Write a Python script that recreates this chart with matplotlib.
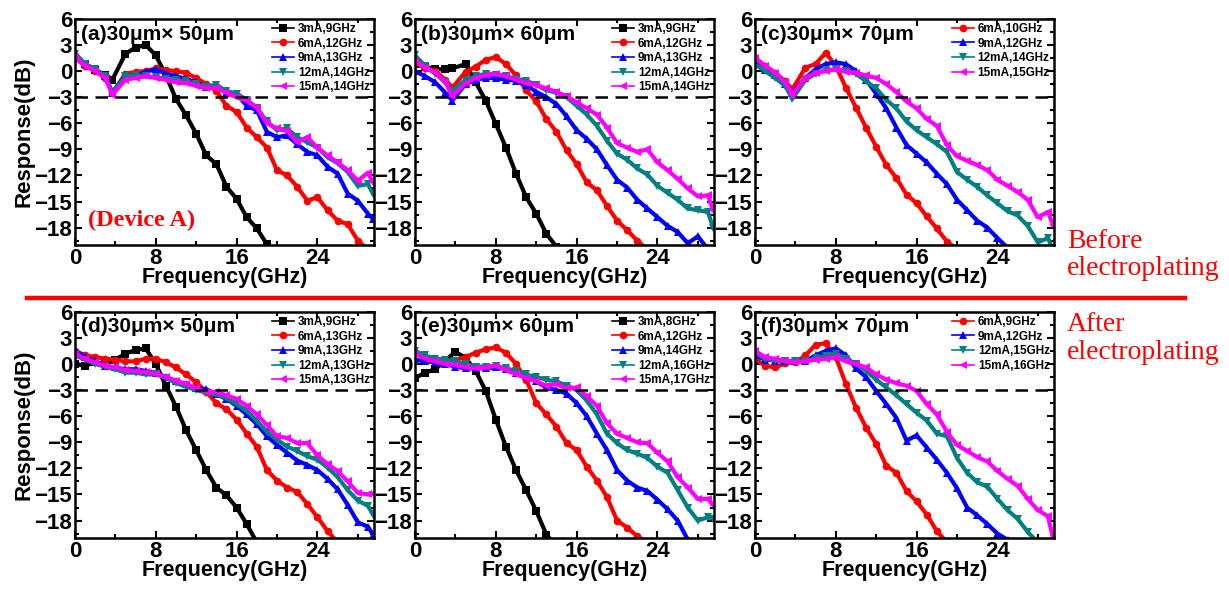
import matplotlib
matplotlib.use("Agg")
import matplotlib.pyplot as plt
from matplotlib.ticker import MultipleLocator

plt.rcParams['font.family'] = ['Liberation Sans', 'DejaVu Sans']
plt.rcParams['font.weight'] = 'bold'

# frequency grids (GHz)
freq_top = [0, 1, 2, 3, 3.7] + list(range(5, 30)) + [29.5]
freq_bot = list(range(0, 30)) + [29.5]

# (a) 30um x 50um, before electroplating
a_3mA = [1.5, 0.8, 0.1, -0.4, -1.0, 2.0, 2.7, 3.0, 1.8, -0.5, -3.2, -5.1, -7.2, -9.7, -10.7,
         -13.3, -14.7, -16.8, -18.1, -19.9, -21]
a_6mA = [1.5, 0.6, 0.0, -0.8, -2.5, -0.3, -0.1, 0.0, 0.3, 0.1, 0.0, -0.2, -0.8, -1.5, -2.3,
         -4.0, -4.7, -6.5, -7.6, -8.8, -11.4, -12.0, -13.3, -14.9, -14.5, -16.0, -17.2, -17.6, -19.5, -20.5]
a_9mA = [2.0, 0.8, 0.2, -0.6, -2.5, -0.5, -0.6, -0.1, 0.2, -0.3, -0.6, -0.9, -1.3, -1.8, -1.6,
         -2.5, -2.6, -4.0, -4.5, -7.0, -7.6, -7.4, -8.4, -9.3, -9.7, -11.0, -11.8, -14.1, -14.9, -16.4, -17.0]
a_12mA = [2.0, 0.8, 0.2, -0.6, -2.5, -0.6, -0.5, -0.6, -0.7, -0.9, -1.0, -1.2, -1.5, -1.8, -1.6,
          -2.3, -2.6, -3.3, -4.2, -5.8, -6.8, -6.6, -7.6, -8.2, -8.8, -9.9, -10.6, -11.6, -13.2, -13.0, -14.1]
a_15mA = [1.6, 0.6, 0.0, -0.8, -2.7, -1.0, -0.8, -0.6, -0.8, -1.0, -1.3, -1.4, -1.7, -2.0, -1.9,
          -2.5, -3.0, -3.4, -4.2, -6.0, -6.6, -6.9, -8.2, -7.6, -8.8, -9.7, -10.5, -11.4, -12.6, -11.7, -12.8]

# (b) 30um x 60um, before electroplating
b_3mA = [0.8, 0.5, 0.2, 0.2, 0.3, 0.8, -1.3, -3.4, -6.1, -8.8, -11.8, -14.5, -16.4, -18.7, -20.2]
b_6mA = [1.0, 0.3, 0.0, -1.0, -1.9, -0.1, 0.5, 1.3, 1.6, 0.8, -0.5, -2.2, -3.5, -5.5, -7.0,
         -9.1, -10.7, -12.8, -13.7, -15.5, -17.2, -18.3, -19.5, -20.5]
b_9mA = [0.0, -0.6, -1.3, -2.5, -3.4, -1.5, -1.0, -0.8, -0.8, -1.0, -1.1, -1.6, -2.4, -3.0, -3.8,
         -5.2, -6.8, -7.8, -9.0, -10.8, -12.5, -13.4, -14.8, -15.8, -16.8, -17.8, -18.5, -19.8, -19.0, -20.5]
b_12mA = [1.8, 0.6, -0.3, -1.3, -2.3, -1.0, -0.6, -0.3, -0.4, -0.6, -0.9, -1.1, -1.6, -2.2, -2.5,
          -3.0, -4.0, -5.0, -6.3, -8.0, -9.5, -10.2, -11.2, -11.9, -13.2, -14.0, -14.8, -15.8, -16.0, -16.2, -18.0]
b_15mA = [1.2, 0.4, -0.2, -1.3, -2.9, -1.4, -0.8, -0.5, -0.3, -0.6, -1.0, -1.4, -1.6, -2.0, -2.4,
          -2.9, -3.6, -4.3, -5.0, -6.5, -8.3, -8.8, -9.3, -9.0, -10.5, -11.4, -12.4, -13.5, -14.4, -14.3, -16.0]

# (c) 30um x 70um, before electroplating
c_6mA = [1.5, 0.6, -0.2, -1.2, -2.1, 0.4, 0.8, 2.1, 0.6, -1.9, -4.2, -6.5, -8.7, -10.8, -12.3,
         -14.2, -15.2, -16.7, -18.1, -19.6, -20.5]
c_9mA = [1.0, 0.1, -0.5, -1.5, -2.5, -0.8, 0.2, 0.8, 1.0, 0.8, 0.0, -1.0, -2.6, -4.3, -6.5,
         -8.5, -9.5, -10.5, -11.8, -13.0, -14.8, -16.0, -17.2, -18.0, -19.2, -20.3]
c_12mA = [0.8, 0.0, -0.8, -1.7, -3.2, -1.0, -0.3, 0.1, 0.2, 0.0, -0.3, -1.2, -2.0, -3.3, -4.3,
          -5.8, -6.8, -7.6, -8.4, -9.3, -11.6, -12.5, -13.3, -14.3, -15.2, -16.1, -16.6, -17.8, -19.7, -19.2, -20.5]
c_15mA = [1.5, 0.6, -0.2, -1.3, -2.7, -0.8, -0.2, 0.0, 0.2, -0.1, -0.2, -0.5, -0.8, -1.5, -2.4,
          -3.5, -4.3, -5.5, -6.3, -8.5, -9.8, -10.3, -10.8, -11.4, -12.5, -13.2, -13.9, -14.8, -16.8, -16.2, -17.7]

# (d) 30um x 50um, after electroplating
d_3mA = [0.0, -0.2, 0.2, 0.0, 0.5, 1.2, 1.6, 1.8, 0.0, -2.5, -4.9, -7.6, -9.9, -12.2, -14.2,
         -15.1, -16.5, -18.4, -20.5]
d_6mA = [1.5, 1.0, 0.8, 0.6, 0.5, 0.3, 0.3, 0.6, 0.6, 0.2, -0.4, -1.2, -2.1, -3.2, -4.5,
         -5.2, -6.4, -8.0, -9.5, -12.2, -13.4, -14.2, -14.7, -16.1, -17.6, -19.2, -20.5]
d_9mA = [1.6, 0.8, 0.3, -0.2, -0.4, -0.6, -0.6, -0.8, -1.0, -1.5, -2.0, -2.3, -2.8, -2.9, -3.5,
         -4.0, -4.8, -5.8, -6.9, -8.3, -9.3, -10.2, -11.1, -11.6, -12.2, -13.2, -14.4, -16.2, -18.2, -18.7, -19.6]
d_12mA = [1.0, 0.5, 0.0, -0.3, -0.6, -1.0, -1.0, -1.2, -1.2, -1.6, -2.2, -2.6, -3.0, -3.3, -3.5,
          -3.9, -4.6, -5.4, -6.5, -7.8, -8.7, -9.5, -10.0, -10.6, -11.0, -11.9, -13.0, -14.5, -15.7, -16.3, -17.3]
d_15mA = [1.2, 0.6, 0.2, -0.2, -0.4, -0.7, -0.8, -0.9, -1.1, -1.5, -1.9, -2.3, -2.8, -3.2, -3.2,
          -3.6, -4.0, -4.8, -5.8, -7.0, -8.3, -8.5, -9.1, -9.1, -10.5, -11.5, -12.3, -13.5, -14.8, -15.0, -14.9]

# (e) 30um x 60um, after electroplating
e_3mA = [-1.6, -1.0, -0.6, 0.4, 1.4, 0.7, -0.8, -3.1, -6.4, -9.5, -12.2, -14.5, -16.9, -19.6, -21.0]
e_6mA = [1.3, 0.7, 0.5, 0.3, 0.5, 0.8, 1.3, 1.7, 1.9, 1.3, 0.0, -1.8, -4.5, -5.8, -7.2,
         -9.1, -9.9, -11.8, -13.4, -15.3, -18.0, -18.8, -19.8, -20.5]
e_9mA = [0.5, 0.3, 0.2, 0.0, -0.3, -0.5, -0.5, -0.5, -0.4, -0.6, -1.0, -1.4, -2.0, -2.7, -3.0,
         -3.4, -4.5, -6.0, -8.0, -9.9, -12.2, -13.4, -14.2, -14.6, -15.6, -16.7, -18.0, -20.2]
e_12mA = [1.5, 1.0, 0.6, 0.5, 0.3, 0.0, -0.3, -0.3, -0.2, -0.5, -0.8, -1.2, -1.5, -1.8, -2.0,
          -2.5, -3.0, -4.2, -5.8, -8.0, -9.1, -9.9, -10.3, -10.8, -11.8, -12.5, -14.5, -16.5, -18.0, -17.6, -17.8]
e_15mA = [1.2, 0.6, 0.3, 0.0, -0.1, -0.4, -0.5, -0.4, -0.2, -0.7, -1.2, -1.6, -2.0, -2.5, -2.3,
          -2.8, -2.7, -3.7, -4.8, -6.8, -8.0, -8.5, -9.0, -9.1, -10.2, -11.2, -13.0, -14.2, -15.5, -15.5, -16.2]

# (f) 30um x 70um, after electroplating
f_6mA = [0.6, -0.2, -0.4, 0.1, 0.2, 1.0, 2.2, 2.4, 0.8, -2.3, -5.0, -7.3, -9.2, -11.7, -12.5,
         -14.6, -15.8, -17.3, -19.2, -20.5]
f_9mA = [1.0, 0.5, 0.4, 0.3, 0.4, 0.3, 1.0, 1.5, 1.8, 1.0, -0.5, -1.5, -3.1, -4.6, -6.2,
         -8.8, -8.2, -9.6, -11.0, -12.5, -14.3, -16.5, -17.4, -18.4, -19.5, -20.2]
f_12mA = [1.3, 0.6, 0.4, 0.3, 0.3, 0.3, 0.7, 0.9, 1.2, 0.6, 0.0, -0.8, -1.8, -2.7, -3.6,
          -4.6, -5.6, -6.5, -8.0, -8.3, -10.8, -12.5, -13.6, -14.1, -15.5, -16.8, -17.8, -19.3, -20.5]
f_15mA = [1.5, 0.8, 0.6, 0.4, 0.2, 0.3, 0.5, 0.6, 0.8, 0.3, 0.0, -0.4, -1.2, -1.8, -2.2,
          -2.5, -3.1, -4.6, -5.8, -7.8, -9.3, -10.0, -10.7, -11.2, -12.3, -13.2, -14.0, -15.5, -16.8, -17.5, -20.0]

titles = ["(a)30\u03bcm\u00d7 50\u03bcm", "(b)30\u03bcm\u00d7 60\u03bcm", "(c)30\u03bcm\u00d7 70\u03bcm",
          "(d)30\u03bcm\u00d7 50\u03bcm", "(e)30\u03bcm\u00d7 60\u03bcm", "(f)30\u03bcm\u00d7 70\u03bcm"]
labels_a = ["3mA,9GHz", "6mA,12GHz", "9mA,13GHz", "12mA,14GHz", "15mA,14GHz"]
labels_b = ["3mA,9GHz", "6mA,12GHz", "9mA,13GHz", "12mA,14GHz", "15mA,14GHz"]
labels_c = ["6mA,10GHz", "9mA,12GHz", "12mA,14GHz", "15mA,15GHz"]
labels_d = ["3mA,9GHz", "6mA,13GHz", "9mA,13GHz", "12mA,13GHz", "15mA,13GHz"]
labels_e = ["3mA,8GHz", "6mA,12GHz", "9mA,14GHz", "12mA,16GHz", "15mA,17GHz"]
labels_f = ["6mA,9GHz", "9mA,12GHz", "12mA,15GHz", "15mA,16GHz"]

styles = {3: ('black', 's'), 6: ('#ff0000', 'o'), 9: ('#0000ff', '^'),
          12: ('#008080', 'v'), 15: ('#ff00ff', '<')}

panels = [
    (freq_top, [3, 6, 9, 12, 15], [a_3mA, a_6mA, a_9mA, a_12mA, a_15mA], labels_a),
    (freq_top, [3, 6, 9, 12, 15], [b_3mA, b_6mA, b_9mA, b_12mA, b_15mA], labels_b),
    (freq_top, [6, 9, 12, 15], [c_6mA, c_9mA, c_12mA, c_15mA], labels_c),
    (freq_bot, [3, 6, 9, 12, 15], [d_3mA, d_6mA, d_9mA, d_12mA, d_15mA], labels_d),
    (freq_bot, [3, 6, 9, 12, 15], [e_3mA, e_6mA, e_9mA, e_12mA, e_15mA], labels_e),
    (freq_bot, [6, 9, 12, 15], [f_6mA, f_9mA, f_12mA, f_15mA], labels_f),
]

fig = plt.figure(figsize=(12.29, 5.89), dpi=100)
lefts = [0.061, 0.3377, 0.6143]
bottoms = [0.584, 0.0866]
w, h = 0.2433, 0.384

for i, (freq, currents, series, labels) in enumerate(panels):
    ax = fig.add_axes([lefts[i % 3], bottoms[i // 3], w, h])
    for cur, vals, lab in zip(currents, series, labels):
        col, mk = styles[cur]
        ax.plot(freq[:len(vals)], vals, color=col, marker=mk, lw=3.0, ms=5.5,
                markeredgewidth=0, label=lab)
    ax.axhline(-3, color='black', ls=(0, (5, 3)), lw=1.8)
    ax.set_xlim(0, 29.6)
    ax.set_ylim(-20, 6)
    ax.xaxis.set_major_locator(MultipleLocator(8))
    ax.xaxis.set_minor_locator(MultipleLocator(4))
    ax.yaxis.set_major_locator(MultipleLocator(3))
    ax.yaxis.set_minor_locator(MultipleLocator(1.5))
    ax.tick_params(which='both', direction='in', top=True, right=True, labelsize=16, width=1.5)
    ax.tick_params(which='major', length=5, pad=2)
    ax.tick_params(which='minor', length=3)
    for sp in ax.spines.values():
        sp.set_linewidth(1.8)
    for t in ax.get_xticklabels() + ax.get_yticklabels():
        t.set_fontweight('bold')
    ax.set_xlabel("Frequency(GHz)", fontsize=15.5, fontweight='bold', labelpad=-1)
    if i % 3 == 0:
        ax.set_ylabel("Response(dB)", fontsize=16, fontweight='bold', labelpad=0)
    ax.text(0.02, 0.975, titles[i], transform=ax.transAxes, ha='left', va='top',
            fontsize=15, fontweight='bold')
    leg = ax.legend(loc='upper right', bbox_to_anchor=(1.0, 1.0), frameon=False,
                    prop={'size': 8.5, 'weight': 'bold'}, handlelength=1.9, handletextpad=0.3,
                    labelspacing=0.22, borderpad=0.15, borderaxespad=0.2)
    for ln in leg.get_lines():
        ln.set_linewidth(1.2)
    if i == 0:
        ax.text(0.043, 0.11, "(Device A)", transform=ax.transAxes, color='#ff0000',
                fontsize=17.5, fontweight='bold', family=['Liberation Serif', 'DejaVu Serif'],
                ha='left', va='center')

fig.add_artist(plt.Line2D([0.022, 0.964], [0.494, 0.494], color='#ff0000', lw=3.2))
fig.text(0.868, 0.567, "Before\nelectroplating", color='#ff0000', fontsize=20,
         family=['Liberation Serif', 'DejaVu Serif'], fontweight='normal',
         ha='left', va='center', linespacing=1.15)
fig.text(0.868, 0.426, "After\nelectroplating", color='#ff0000', fontsize=20,
         family=['Liberation Serif', 'DejaVu Serif'], fontweight='normal',
         ha='left', va='center', linespacing=1.15)

fig.savefig("out.png", dpi=100)
